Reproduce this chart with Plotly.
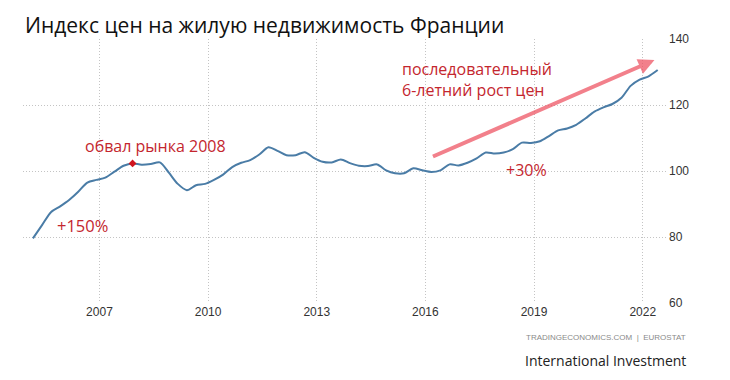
import plotly.graph_objects as go

# Quarterly dates (2005Q1 .. 2022Q2)
years = list(range(2005, 2023))
months = ["03", "06", "09", "12"]
dates = [f"{y}-{m}-01" for y in years for m in months][:70]

# France residential property price index (2015 = 100)
values = [
    79.6, 83.6, 87.6, 89.3,
    91.2, 93.7, 96.5, 97.3,
    98.0, 99.8, 101.6, 102.3,
    101.9, 102.1, 102.6, 99.5,
    96.1, 94.2, 95.7, 96.1,
    97.3, 98.9, 101.2, 102.5,
    103.3, 105.0, 107.2, 106.1,
    104.8, 104.8, 105.7, 104.0,
    102.8, 102.6, 103.5, 102.4,
    101.6, 101.5, 102.0, 100.2,
    99.3, 99.3, 100.8, 100.2,
    99.7, 100.2, 102.0, 101.7,
    102.5, 103.8, 105.6, 105.3,
    105.6, 106.6, 108.6, 108.5,
    109.0, 110.6, 112.3, 112.9,
    114.0, 115.9, 118.0, 119.3,
    120.3, 122.2, 125.8, 127.7,
    128.7, 130.6,
]

highlight_date = ["2007-12-01"]
highlight_value = [102.3]

x_ticks = ["2007-01-01", "2010-01-01", "2013-01-01", "2016-01-01", "2019-01-01", "2022-01-01"]
x_tick_labels = ["2007", "2010", "2013", "2016", "2019", "2022"]
y_ticks = [60, 80, 100, 120, 140]

title = "Индекс цен на жилую недвижимость Франции"
red = "#c4262e"
font_main = "Open Sans"
grid = dict(showgrid=True, gridcolor="#c4c4c4", griddash="1px,2px", gridwidth=1)

fig = go.Figure()
fig.add_trace(go.Scatter(
    x=dates, y=values, mode="lines",
    line=dict(color="#4a7ca6", width=2, shape="spline", smoothing=0.8),
    hoverinfo="skip", showlegend=False,
))
fig.add_trace(go.Scatter(
    x=highlight_date, y=highlight_value, mode="markers",
    marker=dict(color="#d0141e", size=6, symbol="diamond"),
    showlegend=False,
))

ann = []
ann.append(dict(text=title, xref="paper", yref="paper", x=0, y=1.053,
                xanchor="left", yanchor="middle", showarrow=False,
                font=dict(family=font_main, size=21, color="#111111")))
ann.append(dict(text="обвал рынка 2008", xref="paper", yref="paper", x=0.206, y=0.595,
                xanchor="center", yanchor="middle", showarrow=False,
                font=dict(family=font_main, size=16, color=red)))
ann.append(dict(text="+150%", xref="paper", yref="paper", x=0.093, y=0.292,
                xanchor="center", yanchor="middle", showarrow=False,
                font=dict(family=font_main, size=16.5, color=red)))
ann.append(dict(text="+30%", xref="paper", yref="paper", x=0.780, y=0.504,
                xanchor="center", yanchor="middle", showarrow=False,
                font=dict(family=font_main, size=16, color=red)))
ann.append(dict(text="последовательный<br>6-летний рост цен", xref="paper", yref="paper",
                x=0.584, y=0.845, xanchor="left", yanchor="middle", align="left",
                showarrow=False,
                font=dict(family=font_main, size=16, color=red)))
ann.append(dict(text="", xref="paper", yref="paper", x=0.979, y=0.920,
                axref="pixel", ayref="pixel", ax=-223, ay=97,
                showarrow=True, arrowhead=2, arrowsize=0.8, arrowwidth=4,
                arrowcolor="rgba(238,80,95,0.72)"))
ann.append(dict(text="TRADINGECONOMICS.COM  |  EUROSTAT", xref="paper", yref="paper",
                x=1.031, y=-0.129, xanchor="right", yanchor="middle", showarrow=False,
                font=dict(family="Liberation Sans", size=8, color="#8a8a8a")))
ann.append(dict(text="International Investment", xref="paper", yref="paper",
                x=1.031, y=-0.216, xanchor="right", yanchor="middle", showarrow=False,
                font=dict(family=font_main, size=14, color="#222222")))

# The page body has an 8px margin: shrink the figure and margins to compensate.
fig.update_layout(
    width=722, height=372,
    margin=dict(l=15, r=62, t=31, b=77),
    paper_bgcolor="white", plot_bgcolor="white",
    annotations=ann,
    xaxis=dict(
        type="date", range=["2004-11-21", "2022-09-13"],
        tickvals=x_ticks, ticktext=x_tick_labels,
        zeroline=False, showline=False, ticks="",
        tickfont=dict(family="Liberation Sans", size=12, color="#333333"),
        **grid,
    ),
    yaxis=dict(
        side="right", range=[60, 140], tickvals=y_ticks,
        zeroline=False, showline=False, ticks="",
        tickfont=dict(family="Liberation Sans", size=12, color="#333333"),
        **grid,
    ),
)

fig.write_html("out.html")
